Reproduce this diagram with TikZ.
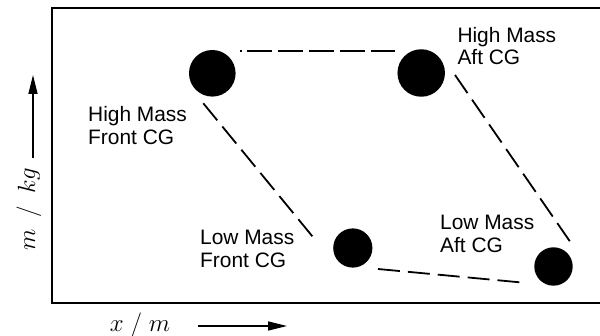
\documentclass[tikz,border=0pt]{standalone}
\usepackage{fontspec}
\setmainfont{Liberation Sans}
\usetikzlibrary{arrows.meta,calc}
\begin{document}
\begin{tikzpicture}[x=1pt,y=-1pt,
  mass/.style={circle,fill=black,inner sep=0pt},
  lbl/.style={anchor=north west,inner sep=0pt,align=left,font=\fontsize{20.9}{22.6}\selectfont},
  conn/.style={line width=1.8pt,dash pattern=on 22pt off 8pt},
  axlbl/.style={inner sep=0pt,font=\fontsize{24}{28}\selectfont},
  axarrow/.style={line width=1.4pt,-{Triangle[length=19pt,width=9pt]}}]
\useasboundingbox (0,0) rectangle (600,336);
\draw[line width=2.5pt] (603,8) -- (52,8) -- (52,303) -- (603,303);
\node[mass,minimum size=46.6pt] (hmf) at (212.3,73.3) {};
\node[mass,minimum size=47.5pt] (hma) at (421.2,73) {};
\node[mass,minimum size=39.2pt] (lmf) at (352.8,248) {};
\node[mass,minimum size=38.4pt] (lma) at (553.5,266.5) {};
\node[lbl] (thmf) at (88,106.5) {High Mass\\Front CG};
\node[lbl] (thma) at (457.3,26.7) {High Mass\\Aft CG};
\node[lbl] (tlmf) at (200,230) {Low Mass\\Front CG};
\node[lbl] (tlma) at (440,215) {Low Mass\\Aft CG};
\draw[line width=1.8pt,dash pattern=on 1.5pt off 5pt on 25pt off 6pt on 25pt off 6pt on 25pt off 6pt on 25pt off 6pt on 25pt off 6pt]
  ($(hmf)+(27.7,-22.3)$) -- ($(hma)+(-26.2,-22)$);
\draw[conn] ($(hmf)+(-9,30)$) -- ($(lmf)+(-35.8,-6)$);
\draw[conn] ($(hma)+(33.8,2)$) -- ($(lma)+(17.5,-23.5)$);
\draw[conn] ($(lmf)+(25.2,21)$) -- ($(lma)+(-26.5,16.5)$);
\coordinate (ya) at (33,158);
\coordinate (yb) at (33,75);
\draw[axarrow] (ya) -- (yb);
\node[axlbl,rotate=90] (ylab) at (29,209) {$m\enspace/\enspace kg$};
\coordinate (xa) at (198,326);
\coordinate (xb) at (287,326);
\draw[axarrow] (xa) -- (xb);
\node[axlbl] (xlab) at (140,325) {$x\;/\;m$};
\end{tikzpicture}
\end{document}
